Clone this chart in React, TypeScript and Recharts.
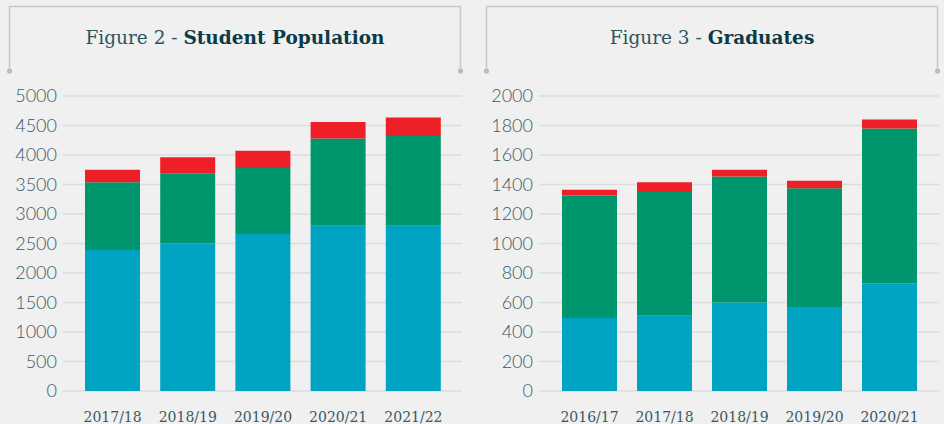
import React from 'react';
import { BarChart, Bar, XAxis, YAxis, CartesianGrid } from 'recharts';

// Figure 2 - Student Population
const popYears = ['2017/18', '2018/19', '2019/20', '2020/21', '2021/22'];
const popBlue = [2390, 2500, 2660, 2800, 2800];
const popGreen = [1150, 1190, 1120, 1480, 1520];
const popRed = [210, 270, 290, 280, 315];
const popTicks = [0, 500, 1000, 1500, 2000, 2500, 3000, 3500, 4000, 4500, 5000];

// Figure 3 - Graduates
const gradYears = ['2016/17', '2017/18', '2018/19', '2019/20', '2020/21'];
const gradBlue = [495, 510, 600, 570, 730];
const gradGreen = [830, 840, 855, 805, 1050];
const gradRed = [40, 65, 45, 50, 60];
const gradTicks = [0, 200, 400, 600, 800, 1000, 1200, 1400, 1600, 1800, 2000];

const BLUE = '#00a4c2';
const GREEN = '#00966d';
const RED = '#ee1f26';
const BG = '#eff0ef';
const GRID = '#dcdddc';
const TICK = '#395966';
const TITLE_FONT = '"DejaVu Serif", serif';
const TICK_FONT = 'Lato, "Open Sans", sans-serif';

const popData = popYears.map((year, i) => ({ year, blue: popBlue[i], green: popGreen[i], red: popRed[i] }));
const gradData = gradYears.map((year, i) => ({ year, blue: gradBlue[i], green: gradGreen[i], red: gradRed[i] }));

function Header({ left, right, label, bold }: { left: number; right: number; label: string; bold: string }) {
  const w = right - left;
  return (
    <>
      <svg width={944} height={80} style={{ position: 'absolute', left: 0, top: 0 }}>
        <path d={`M${left},71 V6.5 H${right} V71`} fill="none" stroke="#c6c9c9" strokeWidth={1.5} />
        <circle cx={left} cy={71} r={2.6} fill="#b9bcbc" />
        <circle cx={right} cy={71} r={2.6} fill="#b9bcbc" />
      </svg>
      <div
        style={{
          position: 'absolute',
          left,
          top: 23,
          width: w,
          textAlign: 'center',
          fontFamily: TITLE_FONT,
          fontSize: 18.5,
          lineHeight: '30px',
          color: '#2c5462',
        }}
      >
        <span style={{ fontWeight: 300 }}>{label}</span>
        <span style={{ fontWeight: 700, color: '#0c3a48' }}>{bold}</span>
      </div>
    </>
  );
}

function Stacked({ data, ticks, max, left, marginLeft, marginRight, padL, padR }: any) {
  return (
    <div style={{ position: 'absolute', left, top: 0 }}>
      <BarChart
        width={472}
        height={424}
        data={data}
        margin={{ top: 96, right: marginRight, left: 0, bottom: 0 }}
        barSize={55}
      >
        <CartesianGrid vertical={false} stroke={GRID} strokeWidth={1.5} />
        <XAxis
          dataKey="year"
          axisLine={false}
          tickLine={false}
          height={33}
          tickMargin={15}
          padding={{ left: padL, right: padR }}
          tick={{ fill: TICK, fontSize: 14, fontFamily: TITLE_FONT }}
          interval={0}
        />
        <YAxis
          width={marginLeft}
          domain={[0, max]}
          ticks={ticks}
          axisLine={false}
          tickLine={false}
          tickMargin={0}
          interval={0}
          tick={{ fill: TICK, fontSize: 18, fontFamily: TICK_FONT, fontWeight: 300 }}
        />
        <Bar dataKey="blue" stackId="a" fill={BLUE} isAnimationActive={false} />
        <Bar dataKey="green" stackId="a" fill={GREEN} isAnimationActive={false} />
        <Bar dataKey="red" stackId="a" fill={RED} isAnimationActive={false} />
      </BarChart>
    </div>
  );
}

export default function App() {
  return (
    <div style={{ position: 'fixed', left: 0, top: 0, width: 944, height: 424, background: BG, overflow: 'hidden' }}>
      <Header left={9.5} right={460.5} label="Figure 2 - " bold="Student Population" />
      <Header left={486.5} right={937.5} label="Figure 3 - " bold="Graduates" />
      <Stacked data={popData} ticks={popTicks} max={5000} left={0} marginLeft={63} marginRight={10} padL={12} padR={11} />
      <Stacked data={gradData} ticks={gradTicks} max={2000} left={472} marginLeft={67} marginRight={5} padL={13} padR={12} />
    </div>
  );
}
